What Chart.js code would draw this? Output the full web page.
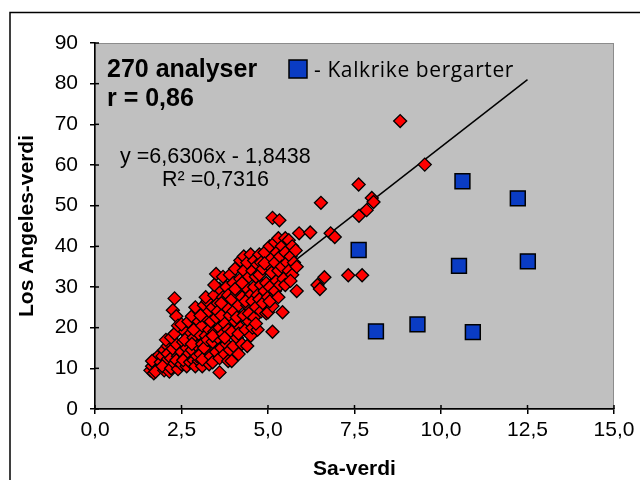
<!DOCTYPE html>
<html>
<head>
<meta charset="utf-8">
<script src="https://cdn.jsdelivr.net/npm/chart.js@4.4.1/dist/chart.umd.min.js"></script>
<style>
  html, body { margin: 0; padding: 0; background: #fff; }
  canvas { display: block; }
</style>
</head>
<body>
<canvas id="chart" width="640" height="480"></canvas>
<script>
// Sa-verdi (x) vs Los Angeles-verdi (y)
const redPoints = [
  [1.6,9.5],[1.65,10.5],[1.7,12],[1.7,8.8],[1.75,11],[1.8,9.8],[1.8,12.8],[1.65,11.8],[1.85,10.2],[1.75,9.2],
  [1.9,11.5],[1.95,13],[2.0,9.5],[2.0,14.5],[2.05,10.8],[2.1,12.2],[2.1,15.5],[1.95,10.5],[2.05,17],[2.15,9.2],[2.1,13.6],
  [2.2,10],[2.2,12.5],[2.25,14.8],[2.25,24.3],[2.3,27.2],[2.35,22.8],[2.3,11.2],[2.35,16],[2.4,13],[2.2,17.6],[2.4,9.8],[2.3,18.5],[2.4,20.5],[2.35,12],
  [2.5,11],[2.5,14],[2.55,16.5],[2.6,12.5],[2.6,19],[2.65,10.5],[2.65,15],[2.7,13.5],[2.7,18],[2.5,20.8],[2.55,12],[2.7,21.5],[2.6,17],[2.75,11.5],
  [2.8,14.5],[2.8,22.8],[2.85,12],[2.85,17.5],[2.9,10.5],[2.9,20],[2.95,15.5],[3.0,11.8],[3.0,18.5],[3.0,24],[2.95,13],[2.8,16],[2.9,25],[3.0,21.5],[2.85,19.5],
  [3.05,13.5],[3.1,10.5],[3.1,16],[3.1,20.5],[3.15,25.5],[3.2,12.5],[3.2,18],[3.2,22.5],[3.25,14.5],[3.25,26.5],[3.3,11],[3.3,19.5],[3.3,24],[3.15,15],[3.05,23],[3.25,17],[3.2,27.5],[3.1,12.2],
  [3.35,13],[3.35,21.5],[3.4,16.5],[3.4,25],[3.4,11.5],[3.45,19],[3.45,28],[3.5,14],[3.5,22.5],[3.5,33.2],[3.55,17.5],[3.55,26],[3.6,9],[3.6,12.5],[3.6,20],[3.6,29.5],[3.45,30.5],[3.55,24],[3.4,18],
  [3.65,15],[3.65,23],[3.7,18.5],[3.7,27.5],[3.7,32.5],[3.75,13.5],[3.75,21],[3.8,16],[3.8,25],[3.8,30],[3.85,19.5],[3.85,28],[3.9,14.5],[3.9,23],[3.9,33],[3.75,17.5],[3.65,26],[3.85,11.8],
  [3.95,11.8],[3.95,19],[3.95,27],[4.0,15.5],[4.0,24],[4.0,31],[4.05,21.5],[4.05,34.5],[4.1,17.5],[4.1,28.5],[4.15,13.5],[4.15,25.5],[4.2,20],[4.2,32],[4.2,36.5],[4.1,22.5],[4.05,29.5],[4.15,18.5],
  [4.25,16],[4.25,27.5],[4.3,23],[4.3,34],[4.3,37.5],[4.35,19.5],[4.35,30],[4.4,15.5],[4.4,25.5],[4.4,36],[4.45,21.5],[4.45,32.5],[4.5,18],[4.5,28],[4.5,38],[4.35,26.5],[4.45,23.5],[4.25,31],
  [4.55,20],[4.55,26.5],[4.55,34],[4.6,22.5],[4.6,30],[4.6,36.5],[4.65,25],[4.65,32.5],[4.7,19.5],[4.7,28],[4.7,35.5],[4.75,27],[4.75,38],[4.8,24],[4.8,30.5],[4.8,36],[4.65,21],[4.75,33],
  [4.85,26],[4.85,34.5],[4.9,29],[4.9,38.5],[4.95,23.5],[4.95,31],[5.0,27.5],[5.0,35.5],[5.0,23.8],[5.05,30],[5.05,40],[5.1,33.5],[5.1,37],[5.13,19],[5.13,25.3],[5.13,47],[4.9,35.8],[5.05,26.5],
  [5.2,29],[5.2,36],[5.2,41],[5.25,31.5],[5.25,38.5],[5.3,34],[5.3,42],[5.33,46.4],[5.35,30.5],[5.35,37.5],[5.42,23.8],[5.4,40],[5.4,35],[5.3,27.5],
  [5.45,32],[5.5,38.5],[5.5,42],[5.55,36],[5.6,41.5],[5.6,34],[5.65,37.5],[5.7,40],[5.7,33],[5.75,36],[5.8,39],[5.83,35],[5.83,29],[5.9,43.2],[5.5,30.5],[5.65,31.5],
  [6.22,43.4],[6.43,30.5],[6.5,29.5],[6.53,50.7],[6.63,32.4],[6.81,43.2],[6.93,42.3],[7.32,32.9],[7.72,32.9],[7.62,55.2],
  [7.63,47.5],[7.85,48.9],[8.0,51.9],[8.05,50.9],[8.82,70.8],[9.53,60.1]
];
const bluePoints = [
  [7.62,39.1],[8.12,19.1],[9.32,20.8],[10.52,35.2],[10.62,56.0],[10.92,18.9],[12.22,51.8],[12.51,36.3]
];
const trendX = [1.6, 12.5];
const trendY = [8.8, 81.0];

const xTickStep = 2.5;
const yTickStep = 10;

const FONT = "'Liberation Sans', Arial, sans-serif";

const toXY = (p) => ({ x: p[0], y: p[1] });

const decor = {
  id: 'decor',
  beforeDraw(c) {
    const { ctx, chartArea: a } = c;
    ctx.save();
    ctx.fillStyle = '#fff';
    ctx.fillRect(0, 0, c.width, c.height);
    // outer frame
    ctx.strokeStyle = '#000';
    ctx.lineWidth = 1.5;
    ctx.strokeRect(10, 12.5, 700, 600);
    // plot area
    ctx.fillStyle = '#c0c0c0';
    ctx.fillRect(a.left, a.top, a.width, a.height);
    ctx.strokeStyle = '#8c8c8c';
    ctx.lineWidth = 1;
    ctx.strokeRect(a.left + 0.5, a.top + 0.5, a.width - 1, a.height);
    ctx.restore();
  },
  afterDraw(c) {
    const { ctx, chartArea: a, scales } = c;
    ctx.save();
    // inner half of the cross ticks
    ctx.strokeStyle = '#000';
    ctx.lineWidth = 1.5;
    scales.x.ticks.forEach((t) => {
      const px = scales.x.getPixelForValue(t.value);
      ctx.beginPath(); ctx.moveTo(px, a.bottom); ctx.lineTo(px, a.bottom - 4); ctx.stroke();
    });
    scales.y.ticks.forEach((t) => {
      const py = scales.y.getPixelForValue(t.value);
      ctx.beginPath(); ctx.moveTo(a.left, py); ctx.lineTo(a.left + 4, py); ctx.stroke();
    });

    ctx.fillStyle = '#000';
    ctx.textAlign = 'left';
    ctx.textBaseline = 'alphabetic';
    ctx.font = 'bold 25px ' + FONT;
    ctx.fillText('270 analyser', 107, 77);
    ctx.fillText('r = 0,86', 107, 106);

    // legend for the blue series
    ctx.fillStyle = '#0a3cc4';
    ctx.fillRect(289, 60, 18, 18);
    ctx.strokeRect(289, 60, 18, 18);
    ctx.fillStyle = '#000';
    ctx.font = "21px 'Open Sans', 'Noto Sans', sans-serif";
    ctx.letterSpacing = '0.6px';
    ctx.fillText('- Kalkrike bergarter', 314, 77);
    ctx.letterSpacing = '0px';

    // regression text
    ctx.font = '21.5px ' + FONT;
    ctx.fillText('y =6,6306x - 1,8438', 120, 163);
    ctx.fillText('R² =0,7316', 162, 186);
    ctx.restore();
  }
};

new Chart(document.getElementById('chart'), {
  type: 'scatter',
  data: {
    datasets: [
      {
        label: 'Trend',
        data: trendX.map((x, i) => ({ x, y: trendY[i] })),
        showLine: true,
        borderColor: '#000',
        borderWidth: 1.5,
        pointRadius: 0,
        order: 3,
      },
      {
        label: 'Kalkrike bergarter',
        data: bluePoints.map(toXY),
        pointStyle: 'rect',
        pointRadius: 10.5,
        backgroundColor: '#0a3cc4',
        borderColor: '#000',
        borderWidth: 1.5,
        order: 2,
      },
      {
        label: '270 analyser',
        data: redPoints.map(toXY),
        pointStyle: 'rectRot',
        pointRadius: 6.5,
        backgroundColor: '#ff0000',
        borderColor: '#000',
        borderWidth: 1.3,
        order: 1,
      },
    ],
  },
  options: {
    responsive: false,
    animation: false,
    layout: { padding: { top: 43, right: 26, left: 0, bottom: 0 } },
    scales: {
      x: {
        type: 'linear',
        min: 0,
        max: 15,
        ticks: {
          stepSize: xTickStep,
          maxRotation: 0,
          autoSkip: false,
          padding: 4,
          color: '#000',
          font: { family: FONT, size: 21 },
          callback: (v) => v.toFixed(1).replace('.', ','),
        },
        grid: { drawOnChartArea: false, tickLength: 5, color: '#000', lineWidth: 1.5 },
        border: { color: '#000', width: 1.5 },
        title: {
          display: true,
          text: 'Sa-verdi',
          color: '#000',
          font: { family: FONT, size: 21, weight: 'bold', lineHeight: 1 },
          padding: { top: 0, bottom: 0 },
        },
        afterFit: (s) => { s.height = 71; },
      },
      y: {
        type: 'linear',
        min: 0,
        max: 90,
        ticks: {
          stepSize: yTickStep,
          padding: 12,
          color: '#000',
          font: { family: FONT, size: 21 },
        },
        grid: { drawOnChartArea: false, tickLength: 5, color: '#000', lineWidth: 1.5 },
        border: { color: '#000', width: 1.5 },
        title: {
          display: true,
          text: 'Los Angeles-verdi',
          color: '#000',
          font: { family: FONT, size: 21, weight: 'bold', lineHeight: 1 },
          padding: { top: 17, bottom: 0 },
        },
        afterFit: (s) => { s.width = 95; },
      },
    },
    plugins: {
      legend: { display: false },
      tooltip: { enabled: false },
    },
  },
  plugins: [decor],
});
</script>
</body>
</html>
